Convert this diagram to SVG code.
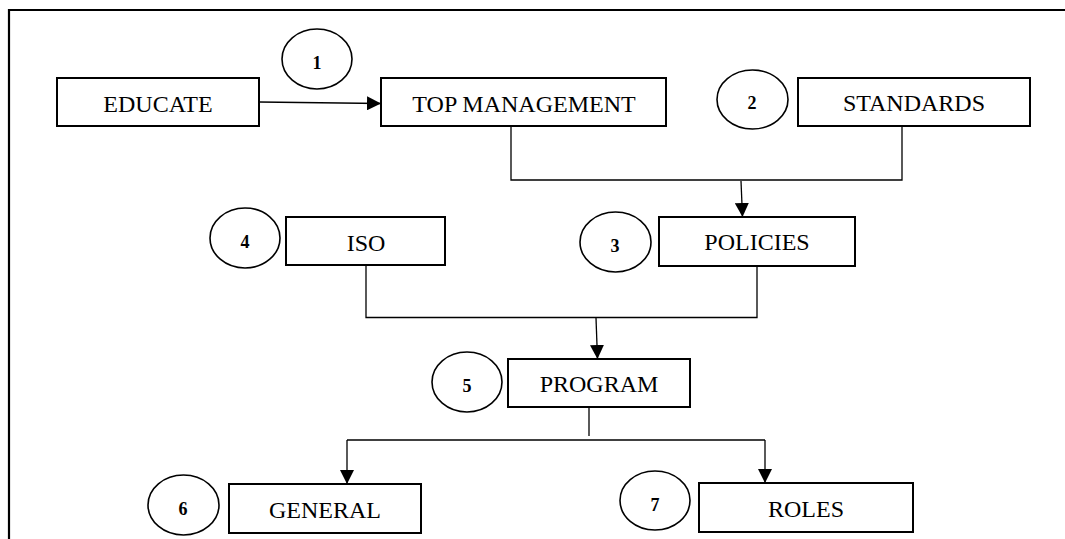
<svg xmlns="http://www.w3.org/2000/svg" width="1065" height="539" viewBox="0 0 1065 539">
  <style>
    .box { fill: #ffffff; stroke: #000000; stroke-width: 2; }
    .badge { fill: #ffffff; stroke: #000000; stroke-width: 1.6; }
    .label { font-family: "Liberation Serif", "Times New Roman", serif; font-size: 24px; fill: #000000; text-anchor: middle; }
    .num { font-family: "Liberation Serif", "Times New Roman", serif; font-size: 18px; font-weight: bold; fill: #000000; text-anchor: middle; }
    .wire { fill: none; stroke: #000000; stroke-width: 1.3; }
    .frame { fill: none; stroke: #000000; stroke-width: 2.2; }
  </style>
  <defs>
    <marker id="arrow" viewBox="0 0 14 14" refX="14" refY="7" markerWidth="14" markerHeight="14" markerUnits="userSpaceOnUse" orient="auto">
      <path d="M0,0 L14,7 L0,14 Z" fill="#000000"/>
    </marker>
  </defs>

  <rect width="1065" height="539" fill="#ffffff"/>

  <!-- page frame (open at the bottom and right) -->
  <path class="frame" d="M9,539 L9,10 L1065,10"/>

  <!-- connectors -->
  <g id="connectors">
    <line class="wire" x1="259" y1="102" x2="381" y2="103.5" marker-end="url(#arrow)"/>
    <polyline class="wire" points="511,126 511,180 902,180 902,126"/>
    <line class="wire" x1="741" y1="181" x2="742.5" y2="217" marker-end="url(#arrow)"/>
    <polyline class="wire" points="366,265 366,317.5 757,317.5 757,266"/>
    <line class="wire" x1="596" y1="318" x2="597.5" y2="359" marker-end="url(#arrow)"/>
    <line class="wire" x1="589" y1="407" x2="589" y2="436"/>
    <line class="wire" x1="347" y1="440" x2="765" y2="440"/>
    <line class="wire" x1="347" y1="440" x2="347" y2="484" marker-end="url(#arrow)"/>
    <line class="wire" x1="765" y1="440" x2="765" y2="483" marker-end="url(#arrow)"/>
  </g>

  <!-- nodes -->
  <g id="educate">
    <rect class="box" x="57" y="78" width="202" height="48"/>
    <text class="label" x="158" y="112">EDUCATE</text>
  </g>
  <g id="badge-1">
    <ellipse class="badge" cx="317" cy="59" rx="35" ry="30"/>
    <text class="num" x="317" y="69">1</text>
  </g>
  <g id="top-management">
    <rect class="box" x="381" y="78" width="285" height="48"/>
    <text class="label" x="524" y="112">TOP MANAGEMENT</text>
  </g>
  <g id="badge-2">
    <ellipse class="badge" cx="752.5" cy="99.5" rx="35.5" ry="29.5"/>
    <text class="num" x="752" y="109">2</text>
  </g>
  <g id="standards">
    <rect class="box" x="798" y="78" width="232" height="48"/>
    <text class="label" x="914" y="111">STANDARDS</text>
  </g>
  <g id="badge-4">
    <ellipse class="badge" cx="245" cy="238" rx="35" ry="30"/>
    <text class="num" x="245" y="248">4</text>
  </g>
  <g id="iso">
    <rect class="box" x="286" y="217" width="159" height="48"/>
    <text class="label" x="366" y="251">ISO</text>
  </g>
  <g id="badge-3">
    <ellipse class="badge" cx="615.5" cy="242" rx="35.5" ry="30"/>
    <text class="num" x="615" y="252">3</text>
  </g>
  <g id="policies">
    <rect class="box" x="659" y="217" width="196" height="49"/>
    <text class="label" x="757" y="250">POLICIES</text>
  </g>
  <g id="badge-5">
    <ellipse class="badge" cx="467" cy="382" rx="35" ry="30"/>
    <text class="num" x="467" y="392">5</text>
  </g>
  <g id="program">
    <rect class="box" x="508" y="359" width="182" height="48"/>
    <text class="label" x="599" y="392">PROGRAM</text>
  </g>
  <g id="badge-6">
    <ellipse class="badge" cx="183.5" cy="505" rx="35.5" ry="30"/>
    <text class="num" x="183" y="515">6</text>
  </g>
  <g id="general">
    <rect class="box" x="229" y="484" width="192" height="49"/>
    <text class="label" x="325" y="518">GENERAL</text>
  </g>
  <g id="badge-7">
    <ellipse class="badge" cx="655" cy="500.5" rx="35" ry="29.5"/>
    <text class="num" x="655" y="511">7</text>
  </g>
  <g id="roles">
    <rect class="box" x="699" y="483" width="214" height="49"/>
    <text class="label" x="806" y="517">ROLES</text>
  </g>
</svg>
